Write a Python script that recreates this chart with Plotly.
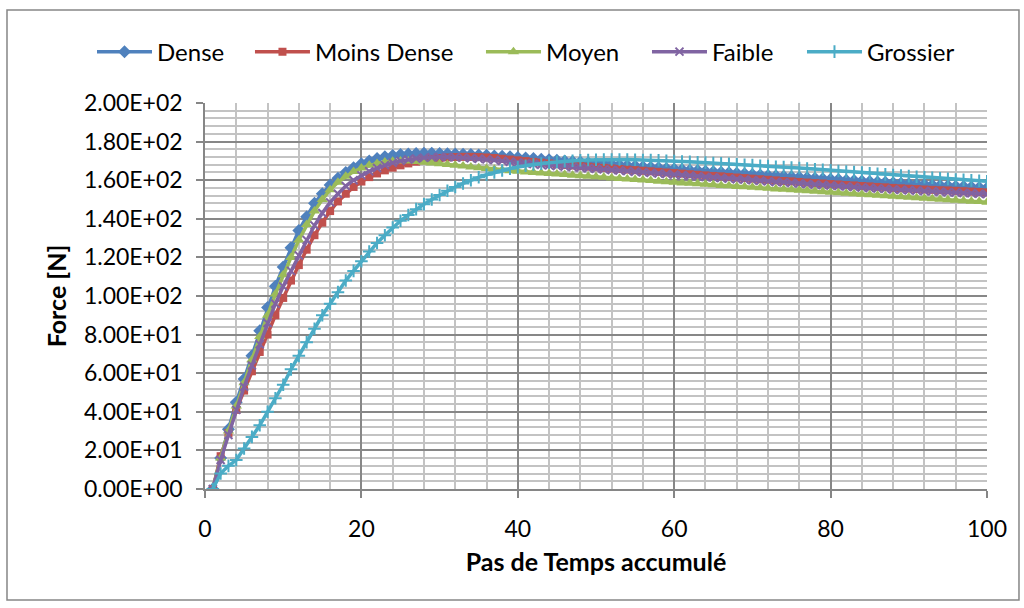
import plotly.graph_objects as go

steps = list(range(1, 101))

dense = [0, 16, 31, 45, 57, 69, 82, 94, 105, 115,
         125, 134, 141, 148, 153, 157.5, 161, 164, 166.5, 168.5,
         170, 171.2, 172.1, 172.8, 173.3, 173.6, 173.8, 173.9, 173.9, 173.8,
         173.7, 173.6, 173.5, 173.3, 173.1, 172.9, 172.6, 172.4, 172.1, 171.8,
         171.5, 171.2, 170.9, 170.6, 170.3, 170.0, 169.7, 169.4, 169.1, 168.8,
         168.5, 168.2, 167.9, 167.6, 167.3, 167.0, 166.7, 166.4, 166.1, 165.8,
         165.5, 165.2, 165.0, 164.7, 164.4, 164.1, 163.8, 163.6, 163.3, 163.0,
         162.75, 162.5, 162.25, 162.0, 161.75, 161.5, 161.25, 161.0, 160.75, 160.5,
         160.3, 160.0, 159.8, 159.6, 159.3, 159.1, 158.9, 158.7, 158.4, 158.2,
         158.0, 157.8, 157.5, 157.3, 157.1, 156.9, 156.7, 156.5, 156.2, 156.0]

moins_dense = [0, 17, 29, 41, 51, 61, 71, 80, 90, 99,
               108, 116, 124, 131.5, 138, 144, 149, 153, 156.5, 159.3,
               161.6, 163.5, 165.1, 166.5, 167.7, 168.7, 169.6, 170.4, 171.0, 171.5,
               171.8, 172.0, 172.1, 172.1, 172.0, 171.8, 171.5, 171.1, 170.7, 170.3,
               169.9, 169.5, 169.1, 168.7, 168.3, 167.9, 167.6, 167.3, 167.0, 166.7,
               166.4, 166.1, 165.8, 165.5, 165.2, 164.9, 164.6, 164.3, 164.0, 163.7,
               163.4, 163.1, 162.8, 162.5, 162.2, 162.0, 161.7, 161.4, 161.1, 160.8,
               160.5, 160.2, 159.9, 159.6, 159.4, 159.1, 158.8, 158.5, 158.3, 158.0,
               157.8, 157.5, 157.3, 157.0, 156.8, 156.5, 156.3, 156.0, 155.8, 155.6,
               155.4, 155.2, 155.0, 154.8, 154.7, 154.5, 154.3, 154.1, 153.9, 153.7]

moyen = [0, 16, 30, 43, 55, 67, 79, 90, 101, 111,
         120, 129, 137, 144, 150, 155, 159, 162, 164.5, 166.3,
         167.7, 168.7, 169.4, 169.8, 170.0, 169.9, 169.7, 169.3, 168.9, 168.5,
         168.1, 167.7, 167.3, 166.9, 166.5, 166.1, 165.7, 165.3, 164.9, 164.6,
         164.3, 164.0, 163.7, 163.5, 163.2, 162.9, 162.6, 162.3, 162.0, 161.8,
         161.5, 161.2, 160.9, 160.6, 160.3, 160.1, 159.8, 159.5, 159.2, 158.9,
         158.6, 158.4, 158.1, 157.9, 157.6, 157.3, 157.1, 156.8, 156.6, 156.3,
         156.1, 155.8, 155.5, 155.3, 155.0, 154.8, 154.5, 154.3, 154.0, 153.7,
         153.5, 153.2, 153.0, 152.7, 152.5, 152.2, 151.9, 151.7, 151.4, 151.2,
         150.9, 150.7, 150.4, 150.1, 149.9, 149.6, 149.4, 149.1, 148.9, 148.6]

faible = [0, 15, 28, 41, 53, 64, 75, 86, 96, 105,
          113, 121, 129, 136.5, 143, 148.5, 153, 157, 160, 162.5,
          164.6, 166.3, 167.8, 169.0, 170.0, 170.7, 171.2, 171.6, 171.9, 172.0,
          172.0, 171.9, 171.7, 171.4, 171.1, 170.8, 170.4, 170.0, 169.6, 169.2,
          168.8, 168.4, 168.0, 167.7, 167.4, 167.1, 166.8, 166.5, 166.2, 165.9,
          165.6, 165.3, 165.0, 164.7, 164.4, 164.1, 163.8, 163.5, 163.2, 162.9,
          162.6, 162.3, 162.0, 161.7, 161.4, 161.1, 160.8, 160.5, 160.3, 160.0,
          159.7, 159.4, 159.1, 158.9, 158.6, 158.3, 158.0, 157.8, 157.5, 157.2,
          157.0, 156.7, 156.5, 156.2, 156.0, 155.7, 155.5, 155.2, 155.0, 154.8,
          154.6, 154.4, 154.2, 154.0, 153.8, 153.6, 153.4, 153.2, 153.0, 152.8]

grossier = [0, 8, 12, 15, 21, 27, 33, 40, 47, 54,
            62, 69, 76, 83, 90, 96, 102, 108, 113, 118,
            123, 127.5, 131.5, 135.5, 139, 142, 145, 147.5, 150, 152.3,
            154.5, 156.5, 158.3, 160, 161.5, 162.8, 164, 165, 166, 166.8,
            167.5, 168.1, 168.6, 169.1, 169.5, 169.8, 170.1, 170.3, 170.5, 170.6,
            170.7, 170.7, 170.7, 170.7, 170.6, 170.5, 170.4, 170.3, 170.1, 169.9,
            169.7, 169.5, 169.3, 169.1, 168.9, 168.7, 168.5, 168.3, 168.0, 167.8,
            167.5, 167.3, 167.0, 166.8, 166.5, 166.3, 166.0, 165.7, 165.4, 165.1,
            164.8, 164.5, 164.2, 163.9, 163.6, 163.3, 163.0, 162.7, 162.4, 162.1,
            161.8, 161.5, 161.3, 161.0, 160.7, 160.4, 160.2, 159.9, 159.7, 159.4]

series_names = ["Dense", "Moins Dense", "Moyen", "Faible", "Grossier"]
series_values = [dense, moins_dense, moyen, faible, grossier]
colors = ["#4F81BD", "#C0504D", "#9BBB59", "#8064A2", "#4BACC6"]
symbols = ["diamond", "square", "triangle-up", "x-thin", "cross-thin"]
sizes = [10, 8, 10, 8, 9]

y_tickvals = [0, 20, 40, 60, 80, 100, 120, 140, 160, 180, 200]
y_ticktext = ["0.00E+00", "2.00E+01", "4.00E+01", "6.00E+01", "8.00E+01",
              "1.00E+02", "1.20E+02", "1.40E+02", "1.60E+02", "1.80E+02", "2.00E+02"]
x_tickvals = [0, 20, 40, 60, 80, 100]

# legend entry left positions (paper fraction)
legend_x = [-0.1445, 0.0575, 0.3529, 0.5652, 0.7634]
legend_ids = ["legend", "legend2", "legend3", "legend4", "legend5"]

FONT = "Lato"

fig = go.Figure()
for name, vals, col, sym, sz, lid in zip(series_names, series_values, colors, symbols, sizes, legend_ids):
    marker = dict(symbol=sym, size=sz, color=col)
    if sym.endswith("-thin"):
        marker["line"] = dict(color=col, width=2)
    fig.add_trace(go.Scatter(
        x=steps, y=vals, name=name, mode="lines+markers",
        line=dict(color=col, width=3.5),
        marker=marker, legend=lid,
    ))

axis_common = dict(
    showline=True, linecolor="#868686", linewidth=1.5,
    ticks="outside", ticklen=7, tickcolor="#868686", tickwidth=1.5,
    showgrid=True, gridcolor="#878787", gridwidth=1.5,
    zeroline=False,
    tickfont=dict(family=FONT, size=23, color="#000000"),
    mirror=False,
)

fig.update_xaxes(
    range=[0, 100], tickmode="array", tickvals=x_tickvals,
    ticklabelstandoff=12,
    minor=dict(tickmode="linear", tick0=0, dtick=4, showgrid=True,
               gridcolor="#c3c3c3", gridwidth=1.6, ticks=""),
    title=dict(text="<b>Pas de Temps accumulé</b>",
               font=dict(family=FONT, size=25, color="#000000"), standoff=12),
    **axis_common,
)
fig.update_yaxes(
    range=[0, 200], tickmode="array", tickvals=y_tickvals, ticktext=y_ticktext,
    ticklabelstandoff=9,
    minor=dict(tickmode="linear", tick0=0, dtick=4, showgrid=True,
               gridcolor="#c3c3c3", gridwidth=1.6, ticks=""),
    title=dict(text="<b>Force [N]</b>",
               font=dict(family=FONT, size=25, color="#000000"), standoff=10),
    **axis_common,
)

legend_common = dict(orientation="h", xanchor="left", y=1.132, yanchor="middle",
                     font=dict(family=FONT, size=24, color="#000000"),
                     itemwidth=55, bgcolor="rgba(0,0,0,0)")
layout_legends = {lid: dict(x=lx, **legend_common) for lid, lx in zip(legend_ids, legend_x)}

fig.update_layout(
    width=1024, height=608,
    margin=dict(l=205, r=37, t=103, b=119),
    paper_bgcolor="#ffffff", plot_bgcolor="#ffffff",
    font=dict(family=FONT, size=22, color="#000000"),
    showlegend=True,
    shapes=[dict(type="rect", xref="paper", yref="paper",
                 x0=-0.2532, x1=1.0409, y0=-0.2876, y1=1.2409,
                 line=dict(color="#868686", width=1.5), layer="below")],
    **layout_legends,
)

fig.write_html("out.html")
